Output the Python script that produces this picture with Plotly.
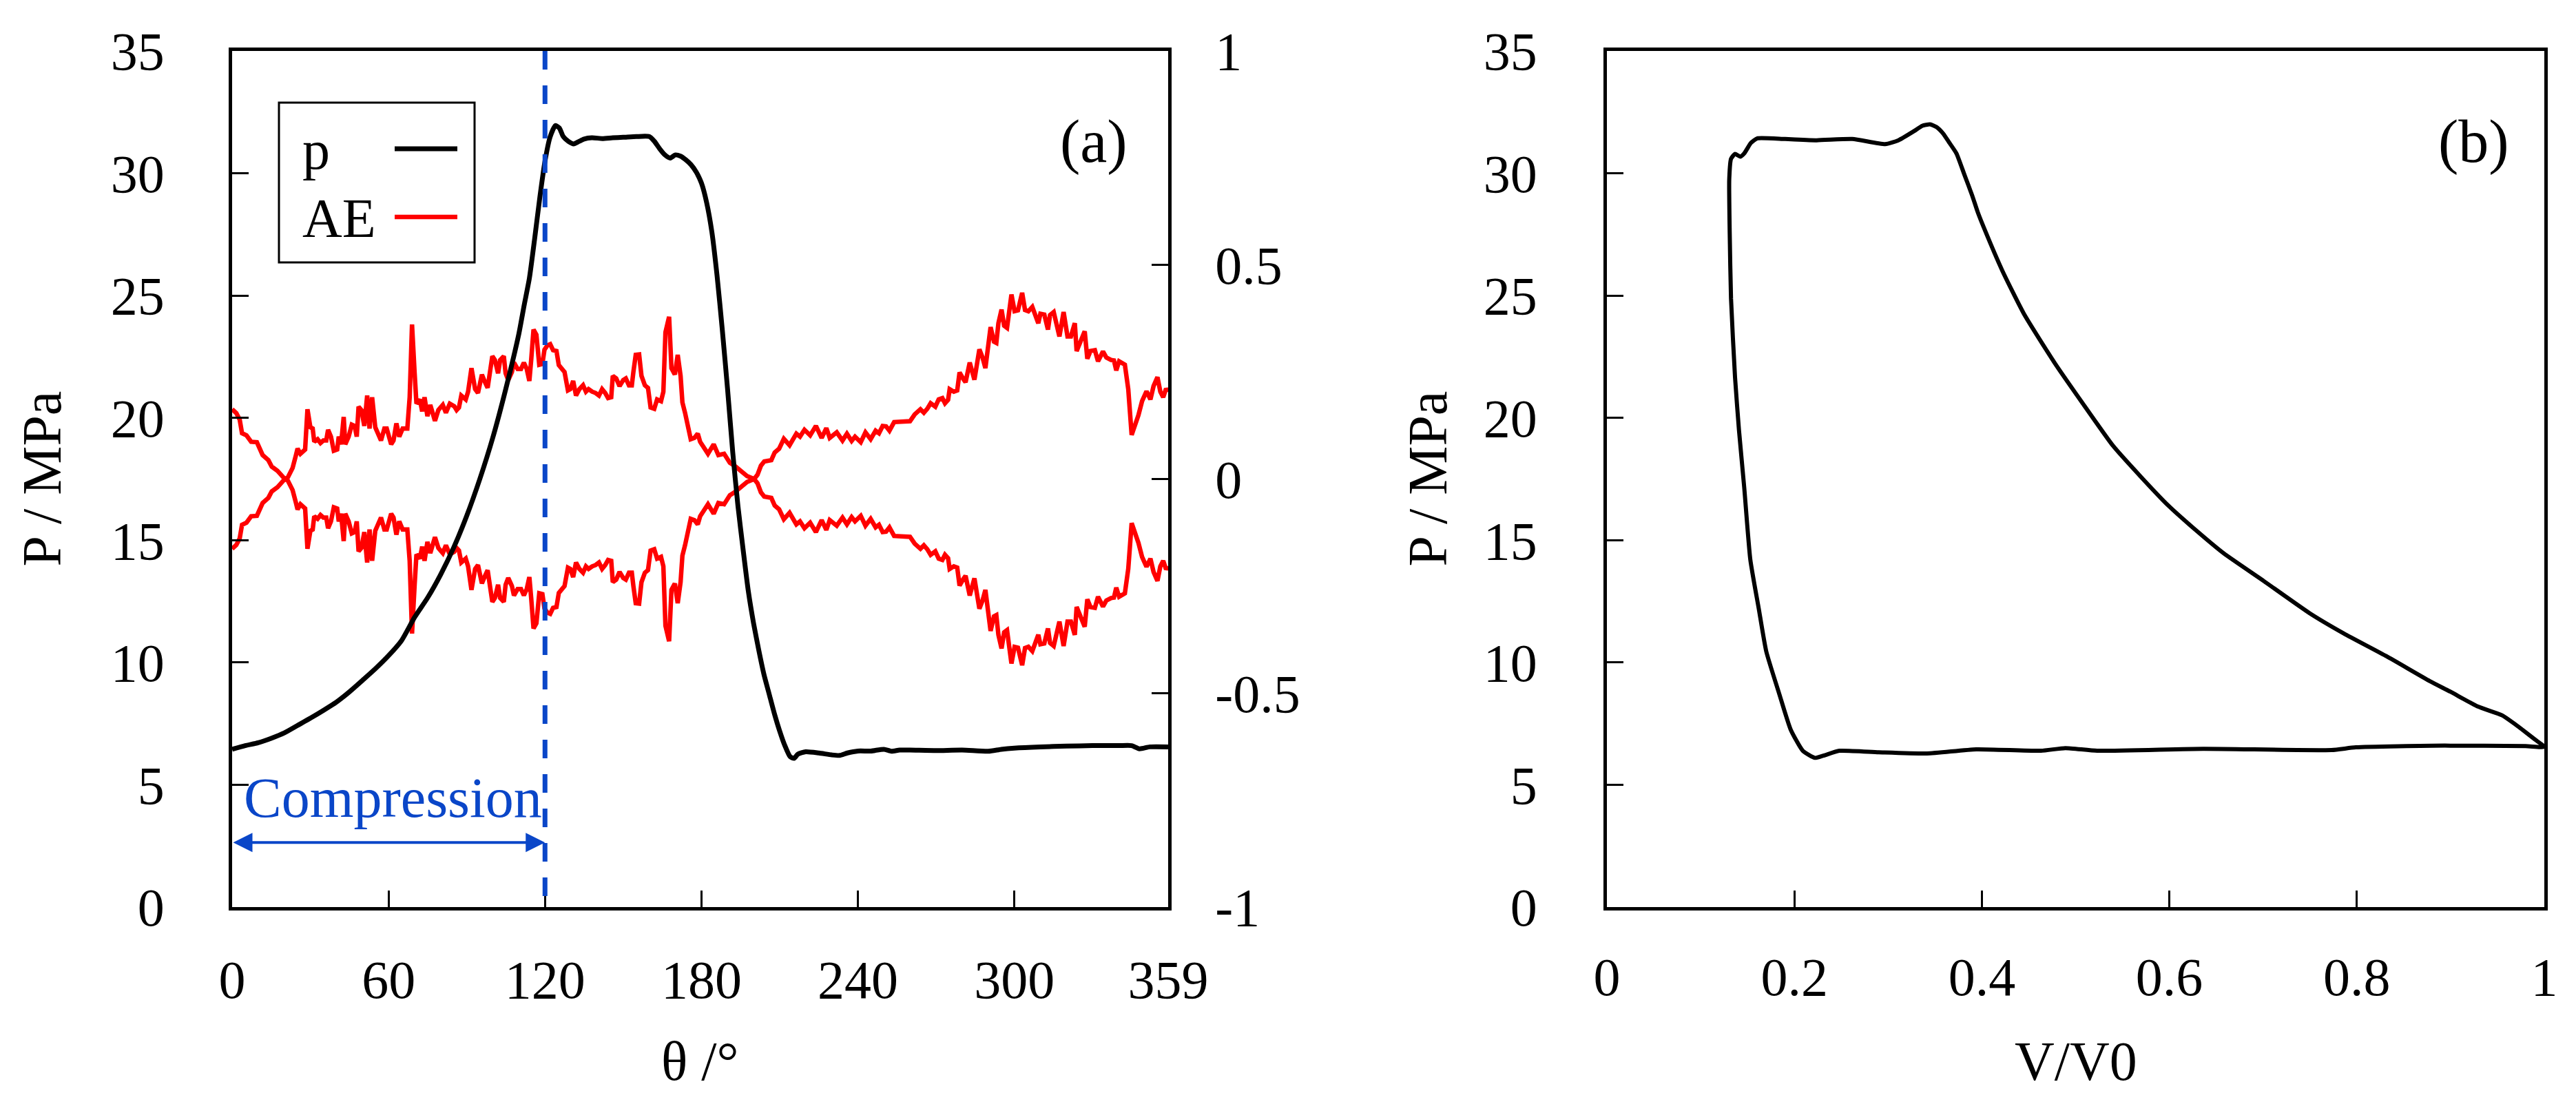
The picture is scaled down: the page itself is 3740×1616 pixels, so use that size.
import plotly.graph_objects as go

# ---------------- data: panel (a) pressure vs crank angle ----------------
p_theta = [0, 5, 10, 15, 20, 25, 30, 35, 40, 45, 50, 55, 60, 65, 70, 75, 80, 85, 90, 95,
           100, 105, 110, 112, 114, 116, 118, 120, 122, 124, 125.5, 127, 129, 131, 133, 135,
           138, 142, 146, 150, 155, 160, 162, 164, 166, 168, 170, 172, 174, 176, 178, 180,
           182, 184, 186, 188, 190, 192, 194, 196, 198, 200, 202, 204, 206, 208, 210, 212,
           214, 215.5, 217, 220, 225, 230, 233, 236, 240, 245, 250, 253, 256, 260, 270, 280,
           290, 295, 300, 310, 320, 330, 340, 345, 348, 352, 359]
p_val = [6.45, 6.6, 6.72, 6.9, 7.12, 7.42, 7.72, 8.04, 8.38, 8.8, 9.27, 9.75, 10.28, 10.9, 11.85,
         12.65, 13.6, 14.7, 16.0, 17.5, 19.2, 21.2, 23.45, 24.6, 25.7, 27.3, 29.0, 30.5, 31.5,
         31.95, 31.85, 31.5, 31.3, 31.2, 31.3, 31.4, 31.45, 31.42, 31.45, 31.47, 31.5, 31.5,
         31.3, 31.0, 30.75, 30.62, 30.75, 30.7, 30.55, 30.35, 30.05, 29.6, 28.8, 27.6, 25.8,
         23.6, 21.2, 18.6, 16.4, 14.6, 12.9, 11.6, 10.5, 9.5, 8.7, 7.9, 7.2, 6.6, 6.15, 6.08,
         6.25, 6.35, 6.3, 6.22, 6.2, 6.3, 6.38, 6.38, 6.45, 6.37, 6.42, 6.42, 6.4, 6.42, 6.37,
         6.45, 6.5, 6.55, 6.58, 6.6, 6.6, 6.6, 6.47, 6.55, 6.55]

# ---------------- data: panel (a) AE signal (right axis) ----------------
ae_theta = [
    0.0, 1.6, 2.9, 3.8, 5.5, 7.3, 9.5, 11.7, 13.9, 15.2,
    17.4, 20.2, 21.4, 23.2, 24.5, 25.1, 26.2, 28.0, 28.9, 30.0,
    30.9, 31.5, 32.8, 33.9, 35.0, 36.1, 36.8, 37.9, 39.0, 40.3,
    40.9, 41.8, 42.8, 43.4, 44.7, 45.9, 47.0, 47.8, 48.5, 49.6,
    50.7, 51.8, 52.7, 53.7, 54.9, 56.2, 57.1, 58.4, 59.3, 61.0,
    61.9, 63.0, 64.1, 65.4, 67.2, 68.1, 69.0, 70.0, 70.7, 72.0,
    72.9, 73.8, 74.9, 76.0, 77.8, 79.1, 80.8, 82.0, 83.5, 85.2,
    86.1, 87.0, 87.9, 89.6, 90.5, 91.8, 93.2, 94.3, 95.8, 97.0,
    98.0, 99.8, 100.8, 102.0, 102.8, 104.2, 104.9, 105.9, 107.3, 108.1,
    109.5, 110.8, 111.9, 113.0, 114.0, 114.7, 115.6, 116.7, 117.8, 119.0,
    119.8, 120.9, 122.0, 123.1, 124.4, 125.3, 126.6, 127.5, 128.8, 129.7,
    130.8, 131.9, 133.2, 134.6, 135.7, 136.7, 138.1, 139.4, 140.7, 141.9,
    143.1, 144.2, 145.4, 146.0, 147.3, 148.6, 150.0, 151.0, 152.2, 153.3,
    153.9, 154.8, 156.1, 157.0, 158.3, 159.5, 160.5, 161.9, 163.0, 164.5,
    165.4, 166.2, 167.6, 168.5, 169.8, 170.9, 172.0, 172.7, 173.7, 175.1,
    175.9, 177.3, 178.6, 179.5, 180.8, 182.5, 184.7, 186.5, 188.7, 190.9,
    192.7, 194.9, 197.5, 200.2, 201.5, 202.8, 204.1, 206.8, 208.1, 209.8,
    211.6, 213.8, 216.4, 217.8, 219.5, 221.7, 223.9, 226.1, 227.9, 229.2,
    231.9, 234.1, 235.8, 237.6, 238.9, 241.1, 242.9, 244.9, 246.8, 248.1,
    249.5, 250.8, 252.1, 253.9, 256.5, 258.7, 260.0, 261.8, 264.0, 265.3,
    266.6, 267.9, 269.7, 271.0, 272.4, 273.4, 274.6, 275.2, 276.8, 278.1,
    279.0, 280.3, 281.3, 282.9, 284.7, 286.6, 287.8, 288.9, 290.9, 292.2,
    293.1, 293.9, 295.1, 296.1, 297.2, 298.9, 300.1, 301.4, 303.0, 304.1,
    305.4, 306.9, 308.0, 309.2, 310.0, 311.5, 312.9, 313.7, 315.1, 316.2,
    317.3, 318.9, 320.4, 321.7, 323.2, 323.9, 325.2, 327.0, 328.0, 329.2,
    330.9, 332.1, 334.0, 335.3, 337.1, 338.2, 339.1, 340.2, 342.4, 343.7,
    345.0, 346.3, 347.6, 349.0, 350.7, 352.2, 353.4, 354.9, 356.0, 357.1,
    358.2, 359.0]

ae_1 = [
    0.163, 0.154, 0.139, 0.107, 0.102, 0.087, 0.086, 0.056, 0.044, 0.029,
    0.019, 0.0, -0.004, -0.026, -0.056, -0.071, -0.059, -0.069, -0.163, -0.121,
    -0.118, -0.087, -0.093, -0.084, -0.090, -0.090, -0.115, -0.099, -0.066, -0.069,
    -0.099, -0.081, -0.145, -0.081, -0.099, -0.127, -0.124, -0.099, -0.169, -0.161,
    -0.124, -0.195, -0.118, -0.191, -0.121, -0.099, -0.090, -0.118, -0.118, -0.081,
    -0.090, -0.130, -0.099, -0.118, -0.118, -0.191, -0.361, -0.247, -0.176, -0.186,
    -0.158, -0.191, -0.147, -0.173, -0.136, -0.161, -0.173, -0.155, -0.176, -0.170,
    -0.161, -0.167, -0.195, -0.186, -0.204, -0.259, -0.210, -0.201, -0.244, -0.226,
    -0.213, -0.287, -0.278, -0.247, -0.278, -0.287, -0.247, -0.231, -0.250, -0.272,
    -0.257, -0.257, -0.272, -0.257, -0.229, -0.278, -0.349, -0.337, -0.267, -0.269,
    -0.302, -0.312, -0.315, -0.301, -0.299, -0.266, -0.257, -0.250, -0.207, -0.210,
    -0.229, -0.195, -0.210, -0.219, -0.204, -0.210, -0.204, -0.201, -0.195, -0.210,
    -0.201, -0.189, -0.191, -0.241, -0.235, -0.217, -0.231, -0.235, -0.219, -0.219,
    -0.250, -0.290, -0.291, -0.241, -0.219, -0.213, -0.167, -0.164, -0.186, -0.182,
    -0.204, -0.343, -0.379, -0.259, -0.244, -0.290, -0.241, -0.179, -0.155, -0.106,
    -0.093, -0.096, -0.106, -0.087, -0.075, -0.059, -0.081, -0.056, -0.059, -0.038,
    -0.031, -0.019, -0.007, 0.0, 0.010, 0.031, 0.041, 0.044, 0.062, 0.071,
    0.094, 0.079, 0.106, 0.099, 0.115, 0.102, 0.124, 0.096, 0.119, 0.096,
    0.109, 0.090, 0.106, 0.089, 0.099, 0.086, 0.109, 0.093, 0.113, 0.107,
    0.124, 0.123, 0.113, 0.133, 0.134, 0.136, 0.135, 0.151, 0.163, 0.155,
    0.164, 0.177, 0.169, 0.186, 0.189, 0.177, 0.185, 0.210, 0.204, 0.207,
    0.249, 0.235, 0.226, 0.272, 0.232, 0.303, 0.284, 0.259, 0.355, 0.321,
    0.318, 0.364, 0.396, 0.358, 0.353, 0.431, 0.392, 0.394, 0.435, 0.395,
    0.392, 0.402, 0.386, 0.364, 0.386, 0.384, 0.349, 0.383, 0.390, 0.355,
    0.333, 0.390, 0.333, 0.333, 0.364, 0.299, 0.316, 0.345, 0.281, 0.299,
    0.301, 0.275, 0.298, 0.284, 0.278, 0.277, 0.254, 0.275, 0.267, 0.210,
    0.103, 0.124, 0.149, 0.182, 0.205, 0.186, 0.217, 0.238, 0.204, 0.191,
    0.211, 0.204]

ae_2 = [
    -0.163, -0.154, -0.139, -0.107, -0.102, -0.087, -0.086, -0.056, -0.044, -0.029,
    -0.019, 0.0, 0.004, 0.026, 0.056, 0.071, 0.059, 0.069, 0.163, 0.121,
    0.118, 0.087, 0.093, 0.084, 0.090, 0.090, 0.115, 0.099, 0.066, 0.069,
    0.099, 0.081, 0.145, 0.081, 0.099, 0.127, 0.124, 0.099, 0.169, 0.161,
    0.124, 0.195, 0.118, 0.191, 0.121, 0.099, 0.090, 0.118, 0.118, 0.081,
    0.090, 0.130, 0.099, 0.118, 0.118, 0.191, 0.361, 0.247, 0.176, 0.186,
    0.158, 0.191, 0.147, 0.173, 0.136, 0.161, 0.173, 0.155, 0.176, 0.170,
    0.161, 0.167, 0.195, 0.186, 0.204, 0.259, 0.210, 0.201, 0.244, 0.226,
    0.213, 0.287, 0.278, 0.247, 0.278, 0.287, 0.247, 0.231, 0.250, 0.272,
    0.257, 0.257, 0.272, 0.257, 0.229, 0.278, 0.349, 0.337, 0.267, 0.269,
    0.302, 0.312, 0.315, 0.301, 0.299, 0.266, 0.257, 0.250, 0.207, 0.210,
    0.229, 0.195, 0.210, 0.219, 0.204, 0.210, 0.204, 0.201, 0.195, 0.210,
    0.201, 0.189, 0.191, 0.241, 0.235, 0.217, 0.231, 0.235, 0.219, 0.219,
    0.250, 0.290, 0.291, 0.241, 0.219, 0.213, 0.167, 0.164, 0.186, 0.182,
    0.204, 0.343, 0.379, 0.259, 0.244, 0.290, 0.241, 0.179, 0.155, 0.106,
    0.093, 0.096, 0.106, 0.087, 0.075, 0.059, 0.081, 0.056, 0.059, 0.038,
    0.031, 0.019, 0.007, 0.0, -0.010, -0.031, -0.041, -0.044, -0.062, -0.071,
    -0.094, -0.079, -0.106, -0.099, -0.115, -0.102, -0.124, -0.096, -0.119, -0.096,
    -0.109, -0.090, -0.106, -0.089, -0.099, -0.086, -0.109, -0.093, -0.113, -0.107,
    -0.124, -0.123, -0.113, -0.133, -0.134, -0.136, -0.135, -0.151, -0.163, -0.155,
    -0.164, -0.177, -0.169, -0.186, -0.189, -0.177, -0.185, -0.210, -0.204, -0.207,
    -0.249, -0.235, -0.226, -0.272, -0.232, -0.303, -0.284, -0.259, -0.355, -0.321,
    -0.318, -0.364, -0.396, -0.358, -0.353, -0.431, -0.392, -0.394, -0.435, -0.395,
    -0.392, -0.402, -0.386, -0.364, -0.386, -0.384, -0.349, -0.383, -0.390, -0.355,
    -0.333, -0.390, -0.333, -0.333, -0.364, -0.299, -0.316, -0.345, -0.281, -0.299,
    -0.301, -0.275, -0.298, -0.284, -0.278, -0.277, -0.254, -0.275, -0.267, -0.210,
    -0.103, -0.124, -0.149, -0.182, -0.205, -0.186, -0.217, -0.238, -0.204, -0.191,
    -0.211, -0.204]

# ---------------- data: panel (b) P-V loop ----------------
v_ratio = [1.0, 0.99, 0.981, 0.968, 0.955, 0.929, 0.9, 0.8777, 0.8318, 0.7859, 0.7498,
           0.7007, 0.658, 0.6285, 0.599, 0.5694, 0.5399, 0.5071, 0.4776, 0.4448, 0.4218,
           0.4021, 0.3956, 0.3897, 0.3813, 0.3729, 0.3644, 0.3588, 0.3517, 0.3447, 0.3363,
           0.3279, 0.311, 0.2969, 0.2618, 0.2238, 0.1901, 0.1605, 0.1536, 0.1465, 0.1423,
           0.1367, 0.1324, 0.1305, 0.131, 0.1324, 0.1367, 0.1409, 0.1465, 0.153, 0.162,
           0.170, 0.184, 0.196, 0.209, 0.222, 0.231, 0.248, 0.29, 0.3415, 0.394, 0.463,
           0.489, 0.523, 0.636, 0.773, 0.799, 0.894, 0.98, 1.0]
p_loop = [6.55, 6.85, 7.12, 7.5, 7.84, 8.2, 8.8, 9.24, 10.25, 11.19, 12.01,
          13.33, 14.46, 15.4, 16.41, 17.6, 18.86, 20.62, 22.25, 24.26, 26.02,
          27.78, 28.41, 29.09, 29.95, 30.81, 31.3, 31.62, 31.89, 32.0, 31.94,
          31.73, 31.35, 31.19, 31.4, 31.35, 31.4, 31.43, 31.24, 30.81, 30.68,
          30.79, 30.59, 29.73, 27.58, 24.88, 21.65, 19.5, 17.15, 14.2, 12.2,
          10.45, 8.7, 7.26, 6.39, 6.1, 6.19, 6.39, 6.33, 6.28, 6.45, 6.39,
          6.5, 6.39, 6.47, 6.42, 6.53, 6.6, 6.58, 6.55]

# ---------------- tick labels / annotations ----------------
theta_ticks = [0, 60, 120, 180, 240, 300, 359]
p_ticks = [0, 5, 10, 15, 20, 25, 30, 35]
ae_ticks = [-1, -0.5, 0, 0.5, 1]
ae_ticktext = ["-1", "-0.5", "0", "0.5", "1"]
v_ticks = [0, 0.2, 0.4, 0.6, 0.8, 1]
v_ticktext = ["0", "0.2", "0.4", "0.6", "0.8", "1"]
compression_end = 120
compression_arrow_p = 2.64
compression_label_p = 4.45

FONT = "Liberation Serif"
BLUE = "#0A46C8"
TICKFONT = dict(family=FONT, size=78, color="black")
W, H = 3740, 1616

# plot-area positions (pixels in the 3740x1616 canvas)
ax_l, ax_r = 329, 1688
bx_l, bx_r = 2325, 3686
py_top, py_bot = 66, 1309


def px(x):
    return x / W


def py(y):
    return 1 - y / H


fig = go.Figure()

# AE traces on the base (right) axis so pressure is drawn above them
fig.add_trace(go.Scatter(x=ae_theta, y=ae_1, mode="lines", xaxis="x", yaxis="y",
                         line=dict(color="#FF0000", width=6.5), showlegend=False))
fig.add_trace(go.Scatter(x=ae_theta, y=ae_2, mode="lines", xaxis="x", yaxis="y",
                         line=dict(color="#FF0000", width=6.5), showlegend=False))
fig.add_trace(go.Scatter(x=p_theta, y=p_val, mode="lines", xaxis="x", yaxis="y2",
                         line=dict(color="black", width=7, shape="spline", smoothing=0.6),
                         showlegend=False))
fig.add_trace(go.Scatter(x=v_ratio, y=p_loop, mode="lines", xaxis="x2", yaxis="y3",
                         line=dict(color="black", width=6, shape="spline", smoothing=0.5),
                         showlegend=False))

ydom = [py(py_bot), py(py_top)]
common = dict(showgrid=False, zeroline=False, showline=True, linecolor="black", linewidth=4.5,
              ticks="inside", ticklen=24, tickwidth=2.5, tickcolor="black",
              tickfont=TICKFONT, automargin=False)

fig.update_layout(
    width=W, height=H,
    margin=dict(l=0, r=0, t=0, b=0),
    paper_bgcolor="white", plot_bgcolor="white",
    showlegend=False,
    font=dict(family=FONT),
    xaxis=dict(domain=[px(ax_l), px(ax_r)], range=[0, 359], anchor="y2",
               tickmode="array", tickvals=theta_ticks, mirror=True,
               ticklabelstandoff=34, **common),
    yaxis=dict(domain=ydom, range=[-1, 1], side="right", anchor="x",
               tickmode="array", tickvals=ae_ticks, ticktext=ae_ticktext,
               ticklabelstandoff=48, **common),
    yaxis2=dict(domain=ydom, range=[0, 35], side="left", anchor="x", overlaying="y",
                tickmode="array", tickvals=p_ticks, ticklabelstandoff=78, **common),
    xaxis2=dict(domain=[px(bx_l), px(bx_r)], range=[0, 1], anchor="y3",
                tickmode="array", tickvals=v_ticks, ticktext=v_ticktext, mirror=True,
                ticklabelstandoff=30, **common),
    yaxis3=dict(domain=ydom, range=[0, 35], anchor="x2", mirror=True,
                tickmode="array", tickvals=p_ticks, ticklabelstandoff=81, **common),
)

shapes = []
# blue dashed line at end of compression
shapes.append(dict(type="line", xref="x", yref="y2", x0=compression_end, x1=compression_end,
                   y0=35, y1=0, line=dict(color=BLUE, width=7, dash="27px,23px"),
                   layer="above"))
# legend box (drawn manually: label first, then line sample)
shapes.append(dict(type="rect", xref="paper", yref="paper",
                   x0=px(397), x1=px(681), y0=py(373), y1=py(141),
                   line=dict(color="black", width=3), fillcolor="white", layer="above"))
shapes.append(dict(type="line", xref="paper", yref="paper", x0=px(565), x1=px(656),
                   y0=py(208), y1=py(208), line=dict(color="black", width=7), layer="above"))
shapes.append(dict(type="line", xref="paper", yref="paper", x0=px(565), x1=px(656),
                   y0=py(307), y1=py(307), line=dict(color="#FF0000", width=6.5), layer="above"))
fig.update_layout(shapes=shapes)

ann = []
# compression arrow (both ends)
ann.append(dict(xref="x", yref="y2", axref="x", ayref="y2",
                x=compression_end, y=compression_arrow_p, ax=0, ay=compression_arrow_p,
                text="", showarrow=True, arrowhead=2, arrowside="end+start",
                arrowsize=1.4, arrowwidth=4, arrowcolor=BLUE, standoff=0, startstandoff=0))
ann.append(dict(xref="x", yref="y2", x=compression_end / 2 + 1.8, y=compression_label_p,
                text="Compression", showarrow=False, xanchor="center", yanchor="middle",
                font=dict(family=FONT, size=82, color=BLUE)))
# legend texts
ann.append(dict(xref="paper", yref="paper", x=px(429), y=py(210), text="p", showarrow=False,
                xanchor="left", yanchor="middle", font=dict(family=FONT, size=80, color="black")))
ann.append(dict(xref="paper", yref="paper", x=px(429), y=py(309), text="AE", showarrow=False,
                xanchor="left", yanchor="middle", font=dict(family=FONT, size=80, color="black")))
# panel labels
ann.append(dict(xref="paper", yref="paper", x=px(1580), y=py(197), text="(a)", showarrow=False,
                xanchor="center", yanchor="middle", font=dict(family=FONT, size=88, color="black")))
ann.append(dict(xref="paper", yref="paper", x=px(3583), y=py(197), text="(b)", showarrow=False,
                xanchor="center", yanchor="middle", font=dict(family=FONT, size=88, color="black")))
# axis titles
ann.append(dict(xref="paper", yref="paper", x=px((ax_l + ax_r) / 2), y=py(1533), text="θ /°",
                showarrow=False, xanchor="center", yanchor="middle",
                font=dict(family=FONT, size=80, color="black")))
ann.append(dict(xref="paper", yref="paper", x=px((bx_l + bx_r) / 2), y=py(1533), text="V/V0",
                showarrow=False, xanchor="center", yanchor="middle",
                font=dict(family=FONT, size=80, color="black")))
ann.append(dict(xref="paper", yref="paper", x=px(52), y=py((py_top + py_bot) / 2), text="P / MPa",
                showarrow=False, xanchor="center", yanchor="middle", textangle=-90,
                font=dict(family=FONT, size=80, color="black")))
ann.append(dict(xref="paper", yref="paper", x=px(2064), y=py((py_top + py_bot) / 2), text="P / MPa",
                showarrow=False, xanchor="center", yanchor="middle", textangle=-90,
                font=dict(family=FONT, size=80, color="black")))
fig.update_layout(annotations=ann)

fig.write_html("out.html")
